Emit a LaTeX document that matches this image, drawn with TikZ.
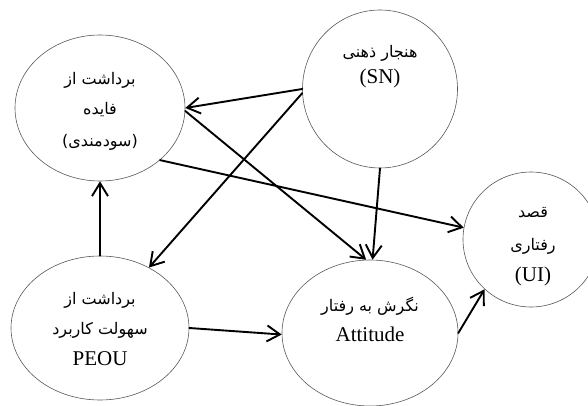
\documentclass[tikz,border=0pt]{standalone}
\usepackage{fontspec}
\setmainfont{Liberation Serif}
\newfontfamily\arabicfont[Script=Arabic]{DejaVu Sans}
\TeXXeTstate=1
\usetikzlibrary{shapes.geometric,arrows.meta}
\begin{document}
\begin{tikzpicture}[x=1pt,y=-1pt,
  bubble/.style={draw=black!65, line width=0.6pt, ellipse, inner sep=0pt},
  fa/.style={font=\arabicfont\fontsize{16}{18}\selectfont, inner sep=0pt},
  la/.style={font=\fontsize{21}{23}\selectfont, inner sep=0pt},
  link/.style={line width=1.9pt, line cap=round, -{Straight Barb[length=13pt,width=16pt,line width=1.9pt]}}]
\fill[white] (0,0) rectangle (588,406);
\useasboundingbox (0,0) rectangle (588,406);

\node[bubble, minimum width=170pt, minimum height=146pt] (ben) at (100,108) {};
\node[bubble, minimum width=155pt, minimum height=158pt] (sn) at (380,89) {};
\node[bubble, minimum width=136pt, minimum height=135pt] (ui) at (531,239.5) {};
\node[bubble, minimum width=178pt, minimum height=144pt] (peou) at (100,328) {};
\node[bubble, minimum width=176pt, minimum height=146pt] (att) at (370,333) {};

\node[fa] (ben1) at (100,80) {\beginR برداشت از\endR};
\node[fa] (ben2) at (100,110) {\beginR فایده\endR};
\node[fa] (ben3) at (100,142) {\beginR (سودمندی)\endR};

\node[fa] (sn1) at (380,53) {\beginR هنجار ذهنی\endR};
\node[la] (sn2) at (380,78) {(SN)};

\node[fa] (ui1) at (533,213) {\beginR قصد\endR};
\node[fa] (ui2) at (533,246) {\beginR رفتاری\endR};
\node[la] (ui3) at (533,276) {(UI)};

\node[fa] (peou1) at (100,300) {\beginR برداشت از\endR};
\node[fa] (peou2) at (100,330) {\beginR سهولت کاربرد\endR};
\node[la] (peou3) at (100,359) {PEOU};

\node[fa] (att1) at (370,306) {\beginR نگرش به رفتار\endR};
\node[la] (att2) at (370,334) {Attitude};

\draw[link] (sn.180) -- (ben.0);
\draw[link] (sn.183) -- (peou.51);
\draw[link] (ben.-2) -- (att.93);
\draw[link] (sn.270) -- (att.88);
\draw[link] (ben.-41.5) -- (ui.170);
\draw[link] (peou.90) -- (ben.270);
\draw[link] (peou.0) -- (att.181);
\draw[link] (att.0) -- (ui.227);
\end{tikzpicture}
\end{document}
